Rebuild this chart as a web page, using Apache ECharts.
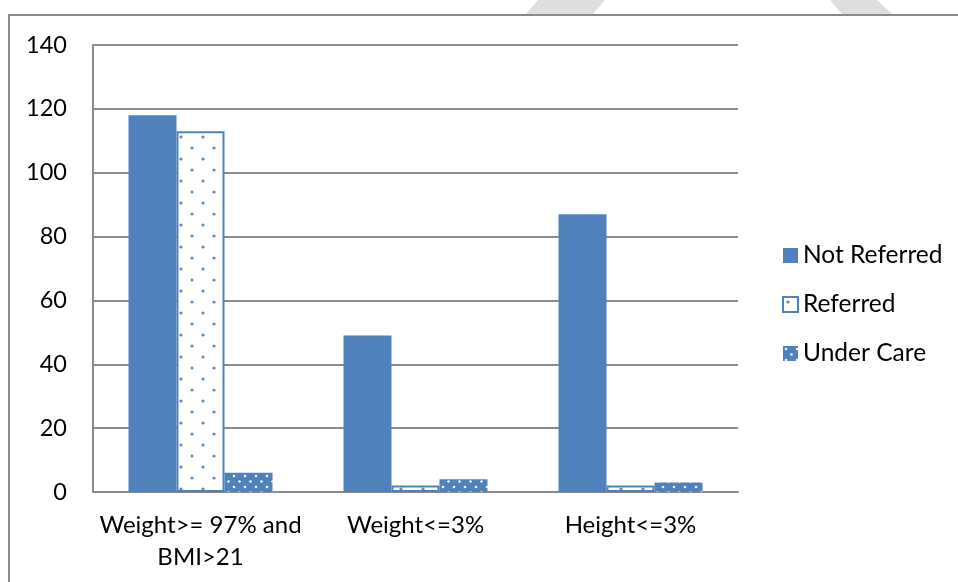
<!DOCTYPE html>
<html>
<head>
<meta charset="utf-8">
<script src="https://cdn.jsdelivr.net/npm/echarts@6/dist/echarts.min.js"></script>
<style>
    html, body {margin: 0; padding: 0; background: #fff;}
    #chart {width: 958px; height: 582px;}
</style>
</head>
<body>
<div id="chart"></div>
<script>
    let categories = ['Weight>= 97% and\nBMI>21', 'Weight<=3%', 'Height<=3%'];
    let notReferred = [118, 49, 87];
    let referred = [113, 2, 2];
    let underCare = [6, 4, 3];
    let yTicks = {min: 0, max: 140, step: 20};

    let blue = '#4f81bd';
    let font = 'Lato, "Noto Sans", sans-serif';

    // white with sparse blue dots (Referred)
    function sparseDots() {
        let c = document.createElement('canvas');
        c.width = 22;
        c.height = 22;
        let ctx = c.getContext('2d');
        ctx.fillStyle = '#fff';
        ctx.fillRect(0, 0, 22, 22);
        ctx.fillStyle = '#5b8ac6';
        [[5, 5], [16, 16]].forEach(function (p) {
            ctx.beginPath();
            ctx.arc(p[0], p[1], 1.6, 0, Math.PI * 2);
            ctx.fill();
        });
        return c;
    }

    // blue with small white dots (Under Care)
    function denseDots() {
        let c = document.createElement('canvas');
        c.width = 11;
        c.height = 11;
        let ctx = c.getContext('2d');
        ctx.fillStyle = blue;
        ctx.fillRect(0, 0, 11, 11);
        ctx.fillStyle = '#f2f6fb';
        [[3, 3], [8.5, 8.5]].forEach(function (p) {
            ctx.beginPath();
            ctx.arc(p[0], p[1], 1.3, 0, Math.PI * 2);
            ctx.fill();
        });
        return c;
    }

    let chart = echarts.init(document.getElementById('chart'));

    let option = {
        backgroundColor: '#fff',
        animation: false,
        textStyle: {fontFamily: font},
        graphic: [
            {
                type: 'polygon',
                shape: {points: [[538, 0], [605, 0], [592, 15], [525, 15]]},
                style: {fill: '#dedede'},
                z: 0
            },
            {
                type: 'polygon',
                shape: {points: [[830, 0], [877, 0], [893, 15], [843, 15]]},
                style: {fill: '#dedede'},
                z: 0
            },
            {
                type: 'rect',
                shape: {x: 9, y: 15, width: 1000, height: 1000},
                style: {fill: '#fff', stroke: '#8a8a8a', lineWidth: 2},
                z: 0
            }
        ],
        grid: {
            left: 93,
            right: 220,
            top: 45,
            bottom: 90
        },
        legend: {
            orient: 'vertical',
            left: 782,
            top: 243,
            padding: 0,
            icon: 'rect',
            itemWidth: 15,
            itemHeight: 15,
            itemGap: 24,
            textStyle: {
                fontSize: 24.5,
                lineHeight: 24,
                color: '#000',
                fontFamily: font
            },
            data: ['Not Referred', 'Referred', 'Under Care']
        },
        xAxis: {
            type: 'category',
            data: categories,
            axisLine: {lineStyle: {color: '#8a8a8a', width: 2}},
            axisTick: {show: false},
            axisLabel: {
                interval: 0,
                margin: 17,
                color: '#000',
                fontSize: 24,
                lineHeight: 32,
                fontFamily: font
            }
        },
        yAxis: {
            type: 'value',
            min: yTicks.min,
            max: yTicks.max,
            interval: yTicks.step,
            axisLine: {show: true, lineStyle: {color: '#8a8a8a', width: 2}},
            axisTick: {show: false},
            splitLine: {show: true, lineStyle: {color: '#8a8a8a', width: 2}},
            axisLabel: {
                margin: 26,
                color: '#000',
                fontSize: 23.5,
                fontFamily: font
            }
        },
        series: [
            {
                name: 'Not Referred',
                type: 'bar',
                barWidth: 48,
                barGap: '0%',
                itemStyle: {color: blue},
                data: notReferred
            },
            {
                name: 'Referred',
                type: 'bar',
                barWidth: 48,
                barGap: '0%',
                itemStyle: {
                    color: {image: sparseDots(), repeat: 'repeat'},
                    borderColor: blue,
                    borderWidth: 2
                },
                data: referred
            },
            {
                name: 'Under Care',
                type: 'bar',
                barWidth: 48,
                barGap: '0%',
                itemStyle: {color: {image: denseDots(), repeat: 'repeat'}},
                data: underCare
            }
        ]
    };

    chart.setOption(option);
    window.onresize = () => {
        chart.resize();
    };
</script>
</body>
</html>
